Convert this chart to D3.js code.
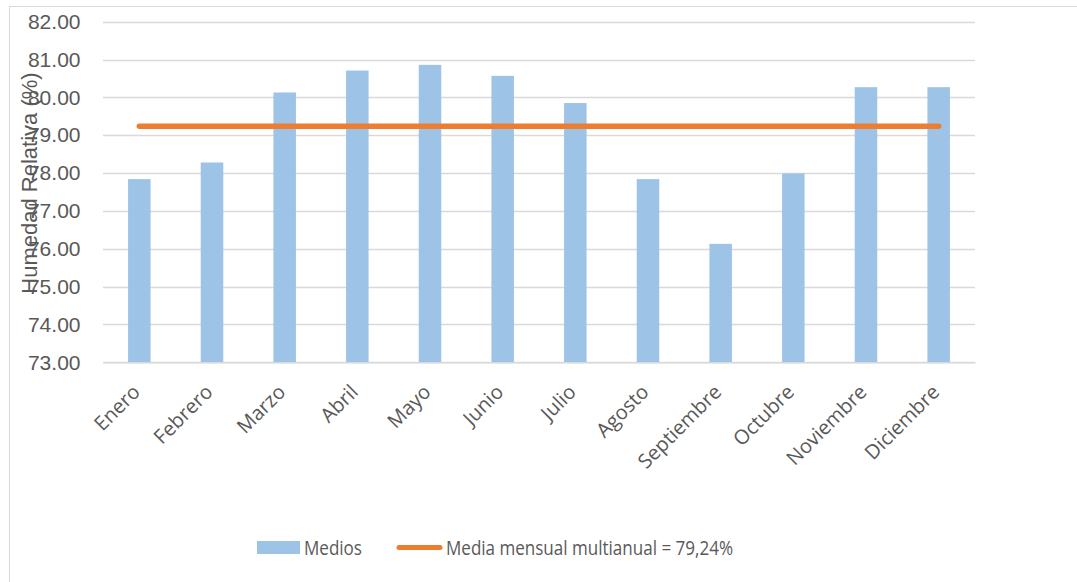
<!DOCTYPE html>
<html><head><meta charset="utf-8">
<script src="https://cdn.jsdelivr.net/npm/d3@7"></script>
<style>body{margin:0;background:#fff}svg{display:block}</style>
</head><body>
<script>
const categories = ["Enero","Febrero","Marzo","Abril","Mayo","Junio","Julio","Agosto","Septiembre","Octubre","Noviembre","Diciembre"];
const medios = [77.84,78.28,80.13,80.71,80.86,80.57,79.85,77.84,76.13,77.99,80.27,80.27];
const mediaMultianual = [79.24,79.24,79.24,79.24,79.24,79.24,79.24,79.24,79.24,79.24,79.24,79.24];
const yTicks = [73,74,75,76,77,78,79,80,81,82];
const seriesNames = ["Medios","Media mensual multianual = 79,24%"];

(function(){
const W=1077,H=582;
const svg=d3.select("body").append("svg").attr("width",W).attr("height",H);
svg.append("rect").attr("x",9.5).attr("y",6.5).attr("width",1200).attr("height",700).attr("fill","#fff").attr("stroke","#d9d9d9").attr("stroke-width",1);

const pL=103,pR=975,pT=21.7,pB=362.3;
const x=d3.scaleBand().domain(categories).range([pL,pR]).padding(0);
const y=d3.scaleLinear().domain([73,82]).range([pB,pT]);

// gridlines
svg.append("g").selectAll("line").data(yTicks).join("line")
  .attr("x1",pL).attr("x2",pR)
  .attr("y1",d=>Math.round(y(d))+0.5).attr("y2",d=>Math.round(y(d))+0.5)
  .attr("stroke","#d9d9d9").attr("stroke-width",1.3);

// y axis labels
const yAxis=d3.axisLeft(y).tickValues(yTicks).tickFormat(d3.format(".2f")).tickSize(0).tickPadding(0);
const ga=svg.append("g").attr("transform",`translate(80.5,0)`).call(yAxis);
ga.select(".domain").remove();
ga.selectAll("text").attr("fill","#595959").style("font-family","Liberation Sans, Arial, sans-serif").style("font-size","21px");

// bars
const bw=x.bandwidth()*0.31;
svg.append("g").selectAll("rect").data(medios).join("rect")
  .attr("x",(d,i)=>x(categories[i])+x.bandwidth()/2-bw/2)
  .attr("width",bw)
  .attr("y",d=>y(d)).attr("height",d=>y(73)-y(d))
  .attr("fill","#9dc3e6");

// mean line
const line=d3.line().x((d,i)=>x(categories[i])+x.bandwidth()/2).y(d=>y(d));
svg.append("path").datum(mediaMultianual).attr("d",line)
  .attr("fill","none").attr("stroke","#ed7d31").attr("stroke-width",5.5).attr("stroke-linecap","round");

// x labels
const xAxis=d3.axisBottom(x).tickSize(0).tickPadding(0);
const gx=svg.append("g").attr("transform",`translate(0,${pB})`).call(xAxis);
gx.select(".domain").attr("stroke","#d9d9d9").attr("stroke-width",1.5);
gx.selectAll("text")
  .attr("fill","#595959").style("font-family","Open Sans, sans-serif").style("font-size","20px")
  .attr("text-anchor","end").attr("dy",null).attr("y",0)
  .attr("transform","translate(2,31) rotate(-45)");

// y axis title
svg.append("text").attr("transform",`translate(37,183) rotate(-90)`)
  .attr("text-anchor","middle").attr("fill","#595959")
  .style("font-family","Liberation Sans, Arial, sans-serif").style("font-size","22px")
  .text("Humedad Relativa (%)");

// legend
const lg=svg.append("g");
lg.append("rect").attr("x",257).attr("y",541).attr("width",43).attr("height",13).attr("fill","#9dc3e6");
lg.append("text").attr("x",304).attr("y",554.5).attr("fill","#595959")
  .style("font-family","Open Sans, sans-serif").style("font-size","19.5px")
  .attr("textLength",58).attr("lengthAdjust","spacingAndGlyphs").text(seriesNames[0]);
lg.append("line").attr("x1",399).attr("x2",440).attr("y1",547.5).attr("y2",547.5)
  .attr("stroke","#ed7d31").attr("stroke-width",5).attr("stroke-linecap","round");
lg.append("text").attr("x",446).attr("y",554.5).attr("fill","#595959")
  .style("font-family","Open Sans, sans-serif").style("font-size","19.5px")
  .attr("textLength",287).attr("lengthAdjust","spacingAndGlyphs").text(seriesNames[1]);
})();
</script>
</body></html>
